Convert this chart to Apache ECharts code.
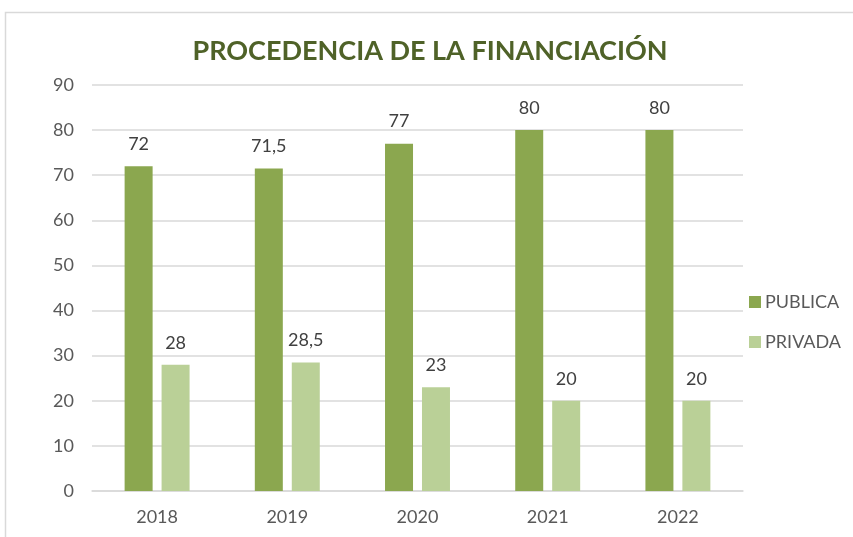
<!DOCTYPE html>
<html>
<head>
<meta charset="utf-8">
<script src="https://cdn.jsdelivr.net/npm/echarts@6/dist/echarts.min.js"></script>
<style>
  html, body { margin: 0; padding: 0; background: #fff; }
  #chart { width: 853px; height: 537px; }
</style>
</head>
<body>
<div id="chart"></div>
<script>
// datos del gráfico
const years = ['2018', '2019', '2020', '2021', '2022']
const publica = [72, 71.5, 77, 80, 80]
const privada = [28, 28.5, 23, 20, 20]
const yTicks = { min: 0, max: 90, interval: 10 }

const font = 'Lato, "Open Sans", sans-serif'
const fmt = p => String(p.value).replace('.', ',')

const chart = echarts.init(document.getElementById('chart'))

const option = {
  backgroundColor: '#fff',
  animation: false,
  graphic: [{
    type: 'rect',
    shape: { x: 5.5, y: 12.5, width: 900, height: 600 },
    style: { fill: 'none', stroke: '#d9d9d9', lineWidth: 1.5 },
    silent: true
  }],
  title: {
    text: 'PROCEDENCIA DE LA FINANCIACIÓN',
    left: 425,
    textAlign: 'center',
    top: 33,
    textStyle: {
      color: '#4f6228',
      fontFamily: font,
      fontWeight: 'bold',
      fontSize: 27
    }
  },
  legend: {
    orient: 'vertical',
    left: 744,
    top: 288,
    itemWidth: 12,
    itemHeight: 12,
    itemGap: 22,
    icon: 'rect',
    textStyle: { color: '#595959', fontSize: 18, fontFamily: font, padding: [0, 0, 0, -1] }
  },
  grid: { left: 92, right: 110, top: 85, bottom: 46 },
  xAxis: {
    type: 'category',
    data: years,
    axisLine: { lineStyle: { color: '#d9d9d9', width: 1.5 } },
    axisTick: { show: false },
    axisLabel: { color: '#595959', fontSize: 18, fontFamily: font, margin: 17 }
  },
  yAxis: {
    type: 'value',
    min: yTicks.min,
    max: yTicks.max,
    interval: yTicks.interval,
    axisLine: { show: false },
    axisTick: { show: false },
    splitLine: { lineStyle: { color: '#d9d9d9', width: 1.5 } },
    axisLabel: { color: '#595959', fontSize: 18, fontFamily: font, margin: 18 }
  },
  series: [
    {
      name: 'PUBLICA',
      type: 'bar',
      data: publica,
      barWidth: 28,
      barGap: '32%',
      itemStyle: { color: '#8ba74f' },
      label: { show: true, position: 'top', distance: 13, color: '#404040', fontSize: 18, fontFamily: font, formatter: fmt }
    },
    {
      name: 'PRIVADA',
      type: 'bar',
      data: privada,
      barWidth: 28,
      itemStyle: { color: '#bad097' },
      label: { show: true, position: 'top', distance: 13, color: '#404040', fontSize: 18, fontFamily: font, formatter: fmt }
    }
  ]
}

chart.setOption(option)
</script>
</body>
</html>
